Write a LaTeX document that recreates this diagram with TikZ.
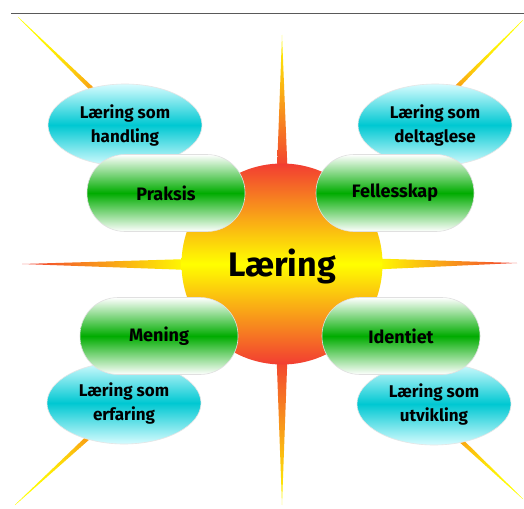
\documentclass[tikz,border=0pt]{standalone}
\usepackage{fontspec}
\setmainfont{Fira Sans}
\usetikzlibrary{shapes.geometric,calc}
\definecolor{sunred}{RGB}{242,60,50}
\definecolor{sunyellow}{RGB}{255,255,0}
\definecolor{rayorange}{RGB}{250,160,20}
\definecolor{boxgreen}{RGB}{0,172,0}
\definecolor{ellcyan}{RGB}{0,200,210}
\definecolor{ellcyanlight}{RGB}{215,252,255}
\tikzset{
  greenbox/.style={rectangle, rounded corners=38pt, minimum width=158pt, minimum height=77pt,
    draw=black!12, line width=0.6pt, top color=white, bottom color=white, middle color=boxgreen,
    font=\fontsize{18}{22}\selectfont\bfseries, text=black},
  cyanell/.style={ellipse, minimum width=154pt, minimum height=82pt, inner sep=0pt,
    draw=black!10, line width=0.6pt, top color=ellcyanlight, bottom color=ellcyanlight, middle color=ellcyan,
    align=center, font=\fontsize{17}{24}\selectfont\bfseries, text=black},
  sun/.style={circle, minimum size=201pt, inner sep=0pt, top color=sunred, bottom color=sunred, middle color=sunyellow}
}
% diagonal ray: tip (#1), base (#2), half width #3 (pt) at base
\newcommand\diagray[3]{%
  \foreach \i in {0,...,29}{%
    \pgfmathsetmacro\ta{\i/30}%
    \pgfmathsetmacro\tb{(\i+1.1)/30}%
    \pgfmathsetmacro\wa{#3*\ta+0.15}%
    \pgfmathsetmacro\wb{#3*\tb+0.15}%
    \pgfmathsetmacro\pc{min(100,120*\ta*\ta)}%
    \fill[rayorange!\pc!sunyellow]
      ($(#1)!\ta!(#2)!\wa pt!90:(#2)$) -- ($(#1)!\tb!(#2)!\wb pt!90:(#2)$) --
      ($(#1)!\tb!(#2)!\wb pt!-90:(#2)$) -- ($(#1)!\ta!(#2)!\wa pt!-90:(#2)$) -- cycle;
  }}
\begin{document}
\begin{tikzpicture}[x=1pt,y=-1pt]
\useasboundingbox (0,0) rectangle (524,508);
\fill[white] (0,0) rectangle (524,508);
\draw[black!65, line width=1pt] (11,14) -- (524,14);
% vertical rays
\shade[top color=sunyellow, bottom color=sunred] (282,35) -- (277,170) -- (287.5,170) -- cycle;
\shade[bottom color=sunyellow, top color=sunred] (282,505) -- (276.5,355) -- (287.5,355) -- cycle;
% horizontal rays
\shade[left color=sunred, right color=sunyellow] (22,264) -- (190,259) -- (190,270) -- cycle;
\shade[right color=sunred, left color=sunyellow] (517,263) -- (375,258.5) -- (375,269.5) -- cycle;
% diagonal rays
\coordinate (t1) at (18,17);   \coordinate (b1) at (98,95);
\coordinate (t2) at (523,20);  \coordinate (b2) at (452,92);
\coordinate (t3) at (15,505);  \coordinate (b3) at (92,434);
\coordinate (t4) at (523,499); \coordinate (b4) at (455,435);
\diagray{t1}{b1}{2.2}
\diagray{t2}{b2}{2.2}
\diagray{t3}{b3}{2.2}
\diagray{t4}{b4}{2.2}
% sun
\node[sun] (sun) at (282,264) {};
% ellipses
\node[cyanell] (handling) at (125,125) {Læring som\\handling};
\node[cyanell] (deltaglese) at (435,125) {Læring som\\deltaglese};
\node[cyanell] (erfaring) at (124,403) {Læring som\\erfaring};
\node[cyanell] (utvikling) at (434,404) {Læring som\\utvikling};
% green boxes
\node[greenbox] (praksis) at (166,193) {Praksis};
\node[greenbox] (fellesskap) at (395,193) {Fellesskap};
\node[greenbox] (mening) at (159,336) {Mening};
\node[greenbox] (identiet) at (401,336) {Identiet};
% centre label
\node[font=\fontsize{34}{40}\selectfont\bfseries] (laering) at (282,266) {Læring};
\end{tikzpicture}
\end{document}
